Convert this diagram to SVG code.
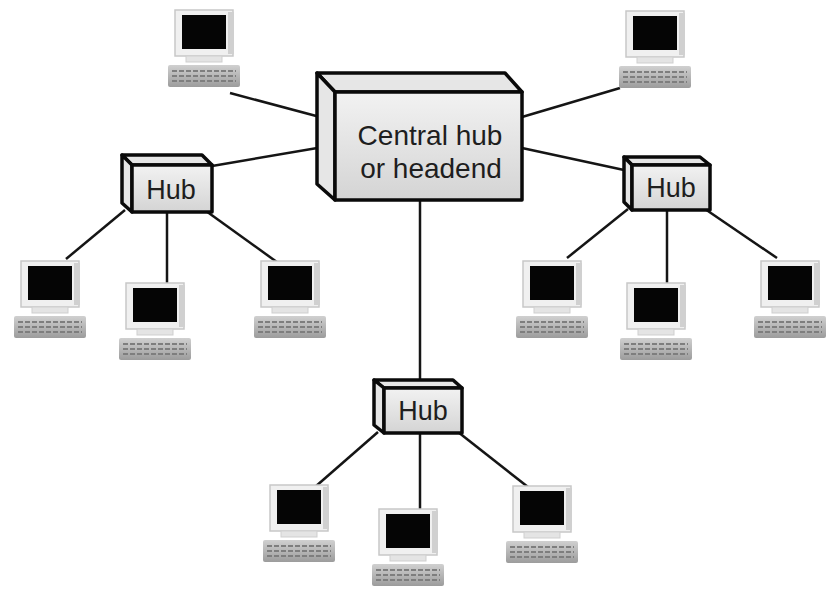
<svg xmlns="http://www.w3.org/2000/svg" width="836" height="589" viewBox="0 0 836 589">
  <defs>
    <linearGradient id="faceGrad" x1="0" y1="0" x2="0" y2="1">
      <stop offset="0" stop-color="#f2f2f2"/>
      <stop offset="1" stop-color="#d4d4d4"/>
    </linearGradient>
    <linearGradient id="kbGrad" x1="0" y1="0" x2="0" y2="1">
      <stop offset="0" stop-color="#d0d0d0"/>
      <stop offset="1" stop-color="#9c9c9c"/>
    </linearGradient>
    <!-- workstation: monitor + keyboard, origin at screen top-left -->
    <g id="pc">
      <rect x="-7" y="-5" width="58" height="46" fill="#f0f0f0" stroke="#c8c8c8" stroke-width="1.5"/>
      <rect x="46" y="-3" width="6" height="42" fill="#d0d0d0"/>
      <rect x="0" y="0" width="44" height="34" fill="#050505"/>
      <rect x="4" y="41" width="36" height="6" fill="#e4e4e4" stroke="#cfcfcf"/>
      <rect x="-14" y="50" width="72" height="22" rx="2" fill="url(#kbGrad)"/>
      <path d="M-10 56 H54 M-10 61 H54 M-10 66 H54" stroke="#7e7e7e" stroke-width="2" stroke-dasharray="5 2"/>
    </g>
  </defs>
  <style>
    .wire { stroke: #151515; stroke-width: 2.5; fill: none; }
    .edge { stroke: #0a0a0a; stroke-width: 3.5; stroke-linejoin: round; }
    .face { fill: url(#faceGrad); }
    .side { fill: #e6e6e6; }
    .lbl { font-family: "Liberation Sans", Arial, sans-serif; fill: #1e1e1e; text-anchor: middle; }
  </style>
  <rect width="836" height="589" fill="#ffffff"/>

  <g id="connectors">
    <line class="wire" x1="230" y1="93" x2="335" y2="121"/>
    <line class="wire" x1="212" y1="166" x2="335" y2="145"/>
    <line class="wire" x1="522" y1="117" x2="620" y2="88"/>
    <line class="wire" x1="522" y1="148" x2="624" y2="170"/>
    <line class="wire" x1="420" y1="200" x2="420" y2="381"/>
    <line class="wire" x1="125" y1="210" x2="66" y2="259"/>
    <line class="wire" x1="167" y1="212" x2="167" y2="288"/>
    <line class="wire" x1="206" y1="211" x2="281" y2="265"/>
    <line class="wire" x1="628" y1="209" x2="567" y2="258"/>
    <line class="wire" x1="667" y1="210" x2="667" y2="288"/>
    <line class="wire" x1="705" y1="209" x2="777" y2="258"/>
    <line class="wire" x1="378" y1="432" x2="315" y2="487"/>
    <line class="wire" x1="420" y1="433" x2="420" y2="514"/>
    <line class="wire" x1="458" y1="432" x2="528" y2="487"/>
  </g>

  <g id="central-hub">
    <polygon class="side edge" points="317,73 505,73 522,92 335,92"/>
    <polygon class="side edge" points="317,73 335,92 335,200 317,184"/>
    <rect class="face edge" x="335" y="92" width="187" height="108"/>
    <text class="lbl" x="430" y="145" font-size="28">Central hub</text>
    <text class="lbl" x="431" y="178" font-size="28">or headend</text>
  </g>

  <g id="hub-left">
    <polygon class="side edge" points="122,155 202,155 212,165 132,165"/>
    <polygon class="side edge" points="122,155 132,165 132,212 122,203"/>
    <rect class="face edge" x="132" y="165" width="80" height="47"/>
    <text class="lbl" x="171" y="199" font-size="27">Hub</text>
  </g>

  <g id="hub-right">
    <polygon class="side edge" points="624,157 700,157 710,165 632,165"/>
    <polygon class="side edge" points="624,157 632,165 632,210 624,202"/>
    <rect class="face edge" x="632" y="165" width="78" height="45"/>
    <text class="lbl" x="671" y="197" font-size="27">Hub</text>
  </g>

  <g id="hub-bottom">
    <polygon class="side edge" points="374,380 453,380 462,388 384,388"/>
    <polygon class="side edge" points="374,380 384,388 384,433 374,425"/>
    <rect class="face edge" x="384" y="388" width="78" height="45"/>
    <text class="lbl" x="423" y="420" font-size="27">Hub</text>
  </g>

  <g id="pc-top-left"><use href="#pc" x="182" y="15"/></g>
  <g id="pc-top-right"><use href="#pc" x="633" y="16"/></g>
  <g id="pc-left-1"><use href="#pc" x="28" y="266"/></g>
  <g id="pc-left-2"><use href="#pc" x="133" y="288"/></g>
  <g id="pc-left-3"><use href="#pc" x="268" y="266"/></g>
  <g id="pc-right-1"><use href="#pc" x="530" y="266"/></g>
  <g id="pc-right-2"><use href="#pc" x="634" y="288"/></g>
  <g id="pc-right-3"><use href="#pc" x="768" y="266"/></g>
  <g id="pc-bottom-1"><use href="#pc" x="277" y="490"/></g>
  <g id="pc-bottom-2"><use href="#pc" x="386" y="514"/></g>
  <g id="pc-bottom-3"><use href="#pc" x="520" y="491"/></g>
</svg>
